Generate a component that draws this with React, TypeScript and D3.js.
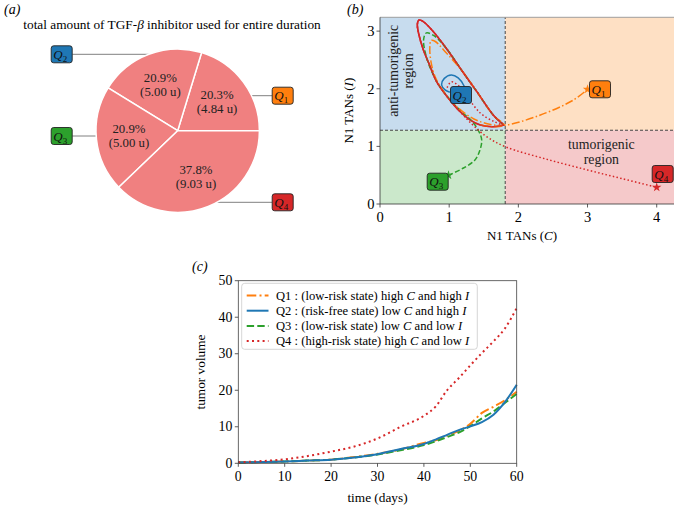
import React from "react";
import * as d3 from "d3";

// ---------- Panel (a) data ----------
const pieLabels = ["1", "2", "3", "4"];
const pieValues = [4.84, 5.0, 5.0, 9.03];
const piePercents = ["20.3%", "20.9%", "20.9%", "37.8%"];
const qColors = ["#ff7f0e", "#1f77b4", "#2ca02c", "#d62728"];

// ---------- Panel (b) data: trajectories in (C, I) ----------
const limitCycle: [number, number][] = [
  [1.79, 1.37], [1.64, 1.54], [1.4, 1.95], [1.18, 2.32], [0.96, 2.7], [0.75, 3.02], [0.62, 3.17],
  [0.56, 3.19], [0.54, 3.12], [0.56, 2.95], [0.62, 2.7], [0.72, 2.4], [0.82, 2.12], [0.98, 1.85],
  [1.16, 1.6], [1.3, 1.46], [1.45, 1.37], [1.64, 1.34], [1.79, 1.37],
];
const trajQ1: [number, number][] = [
  [1.45, 1.37], [1.64, 1.34], [1.79, 1.37], [1.64, 1.54], [1.4, 1.95], [1.18, 2.32], [0.96, 2.62],
  [0.8, 2.82], [0.74, 2.84], [0.72, 2.7], [0.74, 2.45], [0.8, 2.2], [0.92, 1.95], [1.1, 1.7],
  [1.35, 1.48], [1.6, 1.38], [1.82, 1.37], [2.31, 1.54], [2.79, 1.8], [3.0, 1.99],
];
const trajQ2: [number, number][] = [
  [1.26, 1.86], [1.22, 2.04], [1.13, 2.19], [1.03, 2.24], [0.93, 2.18],
  [0.89, 2.07], [0.94, 1.98], [1.01, 1.94],
];
const trajQ3: [number, number][] = [
  [1.79, 1.37], [1.64, 1.54], [1.4, 1.95], [1.18, 2.32], [0.96, 2.7], [0.78, 2.92], [0.67, 2.97],
  [0.63, 2.85], [0.66, 2.6], [0.74, 2.32], [0.86, 2.05], [1.02, 1.8], [1.18, 1.6], [1.32, 1.45],
  [1.42, 1.28], [1.47, 1.11], [1.44, 0.92], [1.37, 0.76], [1.2, 0.62], [0.99, 0.5],
];
const trajQ4: [number, number][] = [
  [0.97, 2.02], [1.03, 2.12], [1.13, 2.06], [1.26, 1.86], [1.45, 1.58], [1.65, 1.43], [1.79, 1.37],
  [1.64, 1.54], [1.4, 1.95], [1.18, 2.32], [0.96, 2.7], [0.75, 3.02], [0.62, 3.17], [0.56, 3.19],
  [0.54, 3.12], [0.56, 2.95], [0.62, 2.7], [0.72, 2.4], [0.82, 2.12], [0.98, 1.85], [1.16, 1.6],
  [1.3, 1.42], [1.54, 1.17], [1.82, 0.99], [2.4, 0.78], [3.0, 0.59], [3.5, 0.44], [4.0, 0.29],
];
const bXTicks = [0, 1, 2, 3, 4];
const bYTicks = [0, 1, 2, 3];
const cThreshold = 1.81;
const iThreshold = 1.28;

// ---------- Panel (c) data ----------
const days = [0, 5, 10, 15, 20, 25, 30, 35, 40, 42.5, 45, 47.5, 50, 52.5, 55, 57.5, 60];
const volQ1 = [0.2, 0.35, 0.5, 0.75, 1.0, 1.7, 2.6, 3.8, 5.6, 6.3, 7.6, 8.9, 10.8, 13.8, 15.5, 17.3, 19.6];
const volQ2 = [0.2, 0.35, 0.5, 0.75, 1.0, 1.6, 2.5, 3.9, 5.3, 6.5, 7.8, 9.1, 10.1, 11.3, 13.3, 16.8, 21.5];
const volQ3 = [0.2, 0.35, 0.5, 0.75, 1.0, 1.6, 2.4, 3.6, 5.0, 6.0, 7.2, 8.4, 10.2, 12.3, 14.2, 16.6, 19.0];
const volQ4 = [0.3, 0.6, 1.1, 2.0, 3.2, 4.6, 6.8, 10.0, 13.0, 15.5, 20.0, 23.3, 26.8, 30.2, 33.4, 37.0, 42.5];
const cXTicks = [0, 10, 20, 30, 40, 50, 60];
const cYTicks = [0, 10, 20, 30, 40, 50];
const legendNames = ["Q1", "Q2", "Q3", "Q4"];
const legendStates = ["low-risk state", "risk-free state", "low-risk state", "high-risk state"];
const legendC = ["high", "low", "low", "high"];
const legendI = ["high", "high", "low", "low"];

const FONT = "'Liberation Serif', 'DejaVu Serif', serif";

function QBox({ x, y, n, color }: { x: number; y: number; n: string; color: string }) {
  return (
    <g transform={`translate(${x},${y})`}>
      <rect x={-10.5} y={-8.5} width={21} height={17} rx={2.5} fill={color} stroke="#222" strokeWidth={0.9} />
      <text x={-1.5} y={4.5} textAnchor="middle" fontFamily={FONT} fontStyle="italic" fontSize={13} fill="#111">
        Q<tspan fontSize={9} dy={3} fontStyle="normal">{n}</tspan>
      </text>
    </g>
  );
}

export default function App() {
  // ---------- Panel (a) ----------
  const cx = 177.7, cy = 130.7, r = 81.7;
  const pie = d3.pie<number>().sort(null).startAngle(Math.PI / 2).endAngle(Math.PI / 2 - 2 * Math.PI);
  const arcs = pie(pieValues);
  const arcGen = d3.arc<d3.PieArcDatum<number>>().innerRadius(0).outerRadius(r);
  const labelArc = d3.arc<d3.PieArcDatum<number>>().innerRadius(r * 0.6).outerRadius(r * 0.6);
  const boxPos = [
    { x: 282.7, y: 95.7, side: 1 },
    { x: 61.7, y: 54.3, side: -1 },
    { x: 61.7, y: 136, side: -1 },
    { x: 282.7, y: 202.3, side: 1 },
  ];

  // ---------- Panel (b) ----------
  const bx = d3.scaleLinear().domain([0, 4.25]).range([380, 674]);
  const by = d3.scaleLinear().domain([0, 3.24]).range([204, 17.3]);
  const bLine = d3
    .line<[number, number]>()
    .x((d) => bx(d[0]))
    .y((d) => by(d[1]))
    .curve(d3.curveCatmullRom.alpha(0.5));
  const trajs = [trajQ1, trajQ2, trajQ3, trajQ4];
  const dashB = ["8,2.4,1.5,2.4", "", "5,2.4", "1.5,2.3"];
  const star = d3.symbol().type(d3.symbolStar).size(28)();

  // ---------- Panel (c) ----------
  const tx = d3.scaleLinear().domain([0, 60]).range([238.3, 516.7]);
  const ty = d3.scaleLinear().domain([0, 50]).range([463.3, 280.7]);
  const cLine = d3
    .line<number>()
    .x((_, i) => tx(days[i]))
    .y((d) => ty(d))
    .curve(d3.curveMonotoneX);
  const vols = [volQ1, volQ2, volQ3, volQ4];
  const dashC = ["9.6,3.2,2,3.2", "", "7.4,3.2", "2,3.3"];
  const drawOrder = [0, 2, 1, 3];

  return (
    <svg width={674} height={505} style={{ position: "absolute", left: 0, top: 0 }} fontFamily={FONT}>
      <rect width={674} height={505} fill="#fff" />
      {/* ================= Panel (a) ================= */}
      <text x={4} y={14} fontSize={14} fontStyle="italic">(a)</text>
      <text x={172} y={29} fontSize={13.3} textAnchor="middle">
        total amount of TGF-<tspan fontStyle="italic">β</tspan> inhibitor used for entire duration
      </text>
      {boxPos.map((b, i) => {
        const dy = b.y - cy;
        const ex = cx + b.side * Math.sqrt(Math.max(0, r * r - dy * dy));
        return (
          <line key={i} x1={b.x - b.side * 10.5} y1={b.y} x2={ex} y2={b.y} stroke="#808080" strokeWidth={1} />
        );
      })}
      <g transform={`translate(${cx},${cy})`}>
        {arcs.map((a, i) => (
          <path key={i} d={arcGen(a) as string} fill="#f08080" stroke="#fff" strokeWidth={1.5} />
        ))}
        {arcs.map((a, i) => {
          const [lx, ly] = labelArc.centroid(a);
          return (
            <text key={i} x={lx} y={ly} fontSize={12.8} textAnchor="middle" fill="#222">
              <tspan x={lx} dy={-2.5}>{piePercents[i]}</tspan>
              <tspan x={lx} dy={14}>({pieValues[i].toFixed(2)} u)</tspan>
            </text>
          );
        })}
      </g>
      {boxPos.map((b, i) => (
        <QBox key={i} x={b.x} y={b.y} n={pieLabels[i]} color={qColors[i]} />
      ))}

      {/* ================= Panel (b) ================= */}
      <text x={347} y={14} fontSize={14} fontStyle="italic">(b)</text>
      <defs>
        <clipPath id="clipB">
          <rect x={bx(0)} y={by(3.24)} width={bx(4.25) - bx(0)} height={by(0) - by(3.24)} />
        </clipPath>
      </defs>
      <g clipPath="url(#clipB)">
        <rect x={bx(0)} y={by(3.24)} width={bx(cThreshold) - bx(0)} height={by(iThreshold) - by(3.24)} fill="#c7dcee" />
        <rect x={bx(cThreshold)} y={by(3.24)} width={bx(4.25) - bx(cThreshold)} height={by(iThreshold) - by(3.24)} fill="#fee0c4" />
        <rect x={bx(0)} y={by(iThreshold)} width={bx(cThreshold) - bx(0)} height={by(0) - by(iThreshold)} fill="#cbe8cb" />
        <rect x={bx(cThreshold)} y={by(iThreshold)} width={bx(4.25) - bx(cThreshold)} height={by(0) - by(iThreshold)} fill="#f5c9ca" />
        <line x1={bx(cThreshold)} x2={bx(cThreshold)} y1={by(0)} y2={by(3.24)} stroke="#333" strokeWidth={0.9} strokeDasharray="3,2" />
        <line x1={bx(0)} x2={bx(4.25)} y1={by(iThreshold)} y2={by(iThreshold)} stroke="#333" strokeWidth={0.9} strokeDasharray="3,2" />
        <text fontSize={13.8} textAnchor="middle" transform={`translate(${bx(0.26)},${by(2.31)}) rotate(-90)`} fill="#222">
          <tspan x={0} dy={0}>anti-tumorigenic</tspan>
          <tspan x={0} dy={15}>region</tspan>
        </text>
        <text fontSize={13.8} textAnchor="middle" fill="#222">
          <tspan x={bx(3.2)} y={by(0.96)}>tumorigenic</tspan>
          <tspan x={bx(3.2)} dy={15.5}>region</tspan>
        </text>
        <path d={bLine(limitCycle) as string} fill="none" stroke={qColors[3]} strokeWidth={1.6} />
        {[1, 2, 0, 3].map((i) => (
          <path key={i} d={bLine(trajs[i]) as string} fill="none" stroke={qColors[i]} strokeWidth={1.5}
            strokeDasharray={dashB[i] || undefined} />
        ))}
        <path d={bLine(limitCycle) as string} fill="none" stroke={qColors[3]} strokeWidth={1.6} strokeOpacity={0.7} />
        {[0, 2, 3].map((i) => {
          const p = trajs[i][trajs[i].length - 1];
          return <path key={i} d={star as string} transform={`translate(${bx(p[0])},${by(p[1])})`} fill={qColors[i]} />;
        })}
      </g>
      <line x1={bx(0)} x2={bx(4.25)} y1={by(3.24)} y2={by(3.24)} stroke="#888" strokeWidth={0.8} />
      <line x1={bx(0)} x2={bx(0)} y1={by(0)} y2={by(3.24)} stroke="#333" strokeWidth={0.8} />
      <line x1={bx(0)} x2={bx(4.25)} y1={by(0)} y2={by(0)} stroke="#333" strokeWidth={0.8} />
      {bXTicks.map((t) => (
        <g key={t}>
          <line x1={bx(t)} x2={bx(t)} y1={by(0)} y2={by(0) + 3.5} stroke="#333" strokeWidth={0.8} />
          <text x={bx(t)} y={by(0) + 17.5} fontSize={14.5} textAnchor="middle">{t}</text>
        </g>
      ))}
      {bYTicks.map((t) => (
        <g key={t}>
          <line x1={bx(0) - 3.5} x2={bx(0)} y1={by(t)} y2={by(t)} stroke="#333" strokeWidth={0.8} />
          <text x={bx(0) - 5.5} y={by(t) + 5} fontSize={14.5} textAnchor="end">{t}</text>
        </g>
      ))}
      <text x={522} y={240} fontSize={13} textAnchor="middle">
        N1 TANs (<tspan fontStyle="italic">C</tspan>)
      </text>
      <text transform={`translate(353,${(by(0) + by(3.24)) / 2}) rotate(-90)`} fontSize={13} textAnchor="middle">
        N1 TANs (<tspan fontStyle="italic">I</tspan>)
      </text>
      <QBox x={600} y={89.3} n="1" color={qColors[0]} />
      <QBox x={461} y={95} n="2" color={qColors[1]} />
      <QBox x={437.7} y={181.7} n="3" color={qColors[2]} />
      <QBox x={662.7} y={174} n="4" color={qColors[3]} />

      {/* ================= Panel (c) ================= */}
      <text x={192} y={271} fontSize={14} fontStyle="italic">(c)</text>
      {cXTicks.map((t) => (
        <g key={t}>
          <line x1={tx(t)} x2={tx(t)} y1={ty(0)} y2={ty(0) + 3.5} stroke="#333" strokeWidth={0.8} />
          <text x={tx(t)} y={ty(0) + 18} fontSize={13.8} textAnchor="middle">{t}</text>
        </g>
      ))}
      {cYTicks.map((t) => (
        <g key={t}>
          <line x1={tx(0) - 3.5} x2={tx(0)} y1={ty(t)} y2={ty(t)} stroke="#333" strokeWidth={0.8} />
          <text x={tx(0) - 6} y={ty(t) + 4.5} fontSize={13.8} textAnchor="end">{t}</text>
        </g>
      ))}
      {drawOrder.map((i) => (
        <path key={i} d={cLine(vols[i]) as string} fill="none" stroke={qColors[i]} strokeWidth={2}
          strokeDasharray={dashC[i] || undefined} />
      ))}
      <rect x={tx(0)} y={ty(50)} width={tx(60) - tx(0)} height={ty(0) - ty(50)} fill="none" stroke="#444" strokeWidth={0.8} />
      <text x={(tx(0) + tx(60)) / 2} y={502} fontSize={13.3} textAnchor="middle">time (days)</text>
      <text transform={`translate(205,${(ty(0) + ty(50)) / 2}) rotate(-90)`} fontSize={13.3} textAnchor="middle">
        tumor volume
      </text>
      <rect x={241.7} y={283.3} width={235.6} height={66} rx={3} fill="#fff" fillOpacity={0.85} stroke="#ccc" strokeWidth={0.8} />
      {legendNames.map((nm, i) => {
        const yy = 295.5 + i * 15.2;
        return (
          <g key={i}>
            <line x1={246.7} x2={268.5} y1={yy} y2={yy} stroke={qColors[i]} strokeWidth={2} strokeDasharray={dashC[i] || undefined} />
            <text x={276} y={yy + 4.3} fontSize={12.6}>
              {nm} : ({legendStates[i]}) {legendC[i]} <tspan fontStyle="italic">C</tspan> and {legendI[i]}{" "}
              <tspan fontStyle="italic">I</tspan>
            </text>
          </g>
        );
      })}
    </svg>
  );
}
